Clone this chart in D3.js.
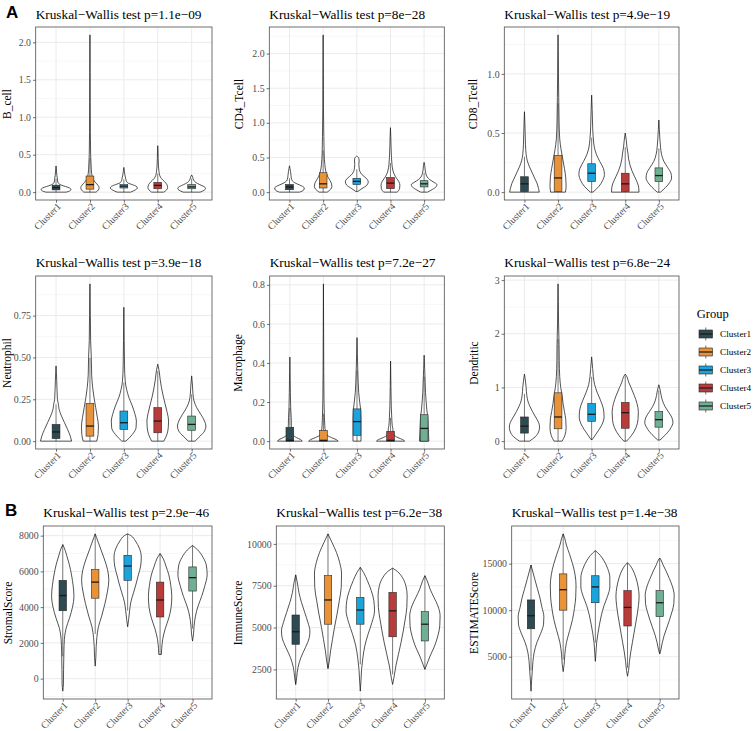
<!DOCTYPE html>
<html><head><meta charset="utf-8">
<script src="https://cdn.jsdelivr.net/npm/d3@7"></script>
<style>body{margin:0;background:#fff}svg{display:block}</style>
</head><body><svg id="chart" width="753" height="731"></svg>
<script>
// ---------------- data ----------------
const categories = ["Cluster1","Cluster2","Cluster3","Cluster4","Cluster5"];
const clusterColors = ["#2E4A52","#E8923A","#1BA3DC","#B83C3A","#6FAF93"];
const variables = ["B_cell","CD4_Tcell","CD8_Tcell","Neutrophil","Macrophage","Dendritic","StromalScore","ImmuneScore","ESTIMATEScore"];
const pValues = ["1.1e\u221209","8e\u221228","4.9e\u221219","3.9e\u221218","7.2e\u221227","6.8e\u221224","2.9e\u221246","6.2e\u221238","1.4e\u221238"];
const yTicks = [
  [0,0.5,1,1.5,2],[0,0.5,1,1.5,2],[0,0.5,1],
  [0,0.25,0.5,0.75],[0,0.2,0.4,0.6,0.8],[0,1,2,3],
  [0,2000,4000,6000,8000],[2500,5000,7500,10000],[5000,10000,15000]
];
const yTickFormats = [".1f",".1f",".1f",".2f",".1f","d","d","d","d"];

// violin profiles: [value, density (half-width, category units)] per cluster
const bcellViolins = [
  [[0,0.30],[0.015,0.40],[0.035,0.44],[0.055,0.40],[0.075,0.28],[0.095,0.15],[0.12,0.07],[0.15,0.045],[0.18,0.04],[0.22,0.025],[0.27,0.015],[0.31,0.01],[0.35,0]],
  [[0,0.18],[0.03,0.25],[0.06,0.27],[0.09,0.24],[0.13,0.16],[0.18,0.09],[0.25,0.05],[0.35,0.035],[0.5,0.02],[0.8,0.012],[1.2,0.008],[1.6,0.005],[2.1,0]],
  [[0,0.2],[0.03,0.34],[0.055,0.40],[0.08,0.36],[0.1,0.25],[0.12,0.13],[0.15,0.07],[0.19,0.05],[0.23,0.03],[0.28,0.015],[0.33,0]],
  [[0,0.18],[0.03,0.26],[0.06,0.29],[0.1,0.27],[0.14,0.2],[0.18,0.11],[0.22,0.06],[0.28,0.035],[0.35,0.02],[0.45,0.012],[0.55,0.008],[0.62,0]],
  [[0,0.25],[0.025,0.37],[0.05,0.41],[0.075,0.36],[0.1,0.24],[0.13,0.12],[0.16,0.06],[0.2,0.03],[0.23,0]]
];
const bcellBoxes = [[0,0.03,0.06,0.093,0.18],[0,0.04,0.1,0.215,0.45],[0,0.055,0.08,0.1,0.17],[0,0.045,0.09,0.13,0.25],[0,0.045,0.07,0.1,0.18]];

const cd4Violins = [
  [[0,0.3],[0.03,0.42],[0.06,0.44],[0.09,0.36],[0.12,0.22],[0.15,0.11],[0.19,0.06],[0.24,0.045],[0.3,0.03],[0.34,0.015],[0.38,0]],
  [[0,0.12],[0.04,0.22],[0.08,0.26],[0.12,0.25],[0.17,0.2],[0.23,0.13],[0.3,0.08],[0.4,0.05],[0.55,0.03],[0.8,0.02],[1.2,0.01],[1.7,0.006],[2.27,0]],
  [[0.01,0.03],[0.05,0.15],[0.1,0.3],[0.15,0.34],[0.2,0.28],[0.25,0.16],[0.3,0.09],[0.35,0.07],[0.4,0.06],[0.45,0.07],[0.49,0.06],[0.52,0]],
  [[0,0.2],[0.05,0.27],[0.1,0.28],[0.15,0.25],[0.2,0.18],[0.26,0.11],[0.32,0.07],[0.4,0.045],[0.5,0.03],[0.65,0.018],[0.8,0.01],[0.93,0]],
  [[0,0.1],[0.04,0.25],[0.08,0.36],[0.11,0.38],[0.14,0.3],[0.18,0.17],[0.22,0.09],[0.27,0.05],[0.32,0.03],[0.38,0.02],[0.43,0]]
];
const cd4Boxes = [[0,0.035,0.075,0.11,0.2],[0,0.06,0.12,0.28,0.6],[0.01,0.11,0.155,0.2,0.33],[0,0.05,0.13,0.21,0.42],[0,0.075,0.12,0.165,0.28]];

const cd8Violins = [
  [[0,0.44],[0.03,0.42],[0.07,0.38],[0.12,0.3],[0.17,0.22],[0.22,0.14],[0.27,0.08],[0.32,0.05],[0.4,0.03],[0.5,0.02],[0.6,0.01],[0.68,0]],
  [[0,0.22],[0.05,0.24],[0.12,0.23],[0.2,0.19],[0.28,0.14],[0.36,0.09],[0.45,0.05],[0.6,0.03],[0.8,0.02],[1.0,0.012],[1.2,0.006],[1.33,0]],
  [[0,0.04],[0.05,0.22],[0.1,0.33],[0.15,0.38],[0.2,0.35],[0.26,0.24],[0.32,0.14],[0.38,0.08],[0.45,0.05],[0.55,0.03],[0.7,0.015],[0.82,0]],
  [[0,0.41],[0.04,0.4],[0.08,0.36],[0.13,0.28],[0.18,0.2],[0.23,0.14],[0.28,0.1],[0.33,0.08],[0.38,0.05],[0.44,0.03],[0.5,0]],
  [[0,0.05],[0.04,0.2],[0.08,0.32],[0.12,0.38],[0.16,0.36],[0.21,0.26],[0.26,0.15],[0.32,0.08],[0.38,0.05],[0.45,0.03],[0.53,0.015],[0.61,0]]
];
const cd8Boxes = [[0,0.005,0.07,0.13,0.3],[0,0.005,0.12,0.31,0.75],[0,0.09,0.16,0.24,0.46],[0,0.005,0.07,0.16,0.38],[0,0.09,0.14,0.205,0.37]];

const neutrophilViolins = [
  [[0,0.46],[0.03,0.42],[0.07,0.34],[0.11,0.25],[0.15,0.16],[0.19,0.09],[0.22,0.07],[0.25,0.04],[0.3,0.03],[0.36,0.02],[0.41,0.01],[0.45,0]],
  [[0,0.2],[0.04,0.24],[0.09,0.25],[0.14,0.22],[0.2,0.17],[0.26,0.12],[0.32,0.08],[0.4,0.05],[0.5,0.04],[0.6,0.02],[0.75,0.012],[0.94,0]],
  [[0,0.06],[0.04,0.25],[0.08,0.36],[0.12,0.37],[0.16,0.33],[0.21,0.25],[0.26,0.15],[0.31,0.08],[0.36,0.04],[0.45,0.02],[0.6,0.01],[0.8,0]],
  [[0,0.18],[0.04,0.27],[0.08,0.31],[0.12,0.32],[0.17,0.28],[0.22,0.22],[0.27,0.16],[0.32,0.11],[0.37,0.07],[0.42,0.04],[0.46,0]],
  [[0,0.1],[0.03,0.25],[0.06,0.38],[0.09,0.42],[0.12,0.38],[0.16,0.27],[0.2,0.15],[0.24,0.07],[0.28,0.04],[0.33,0.025],[0.39,0]]
];
const neutrophilBoxes = [[0,0.015,0.055,0.1,0.22],[0,0.03,0.09,0.225,0.5],[0,0.07,0.11,0.18,0.35],[0,0.05,0.12,0.2,0.42],[0,0.065,0.1,0.15,0.28]];

const macrophageViolins = [
  [[0,0.37],[0.008,0.32],[0.018,0.2],[0.03,0.1],[0.05,0.06],[0.08,0.045],[0.12,0.04],[0.17,0.025],[0.25,0.015],[0.35,0.008],[0.43,0]],
  [[0,0.44],[0.008,0.38],[0.018,0.24],[0.03,0.11],[0.05,0.06],[0.08,0.04],[0.12,0.03],[0.2,0.018],[0.35,0.01],[0.55,0.006],[0.805,0]],
  [[0,0.12],[0.04,0.12],[0.08,0.12],[0.12,0.12],[0.16,0.11],[0.2,0.08],[0.25,0.05],[0.3,0.035],[0.38,0.02],[0.45,0.01],[0.53,0]],
  [[0,0.42],[0.008,0.36],[0.018,0.22],[0.03,0.11],[0.045,0.07],[0.06,0.07],[0.08,0.05],[0.12,0.035],[0.18,0.02],[0.28,0.01],[0.41,0]],
  [[0,0.14],[0.04,0.13],[0.08,0.12],[0.12,0.11],[0.16,0.08],[0.2,0.06],[0.25,0.04],[0.3,0.03],[0.37,0.015],[0.44,0]]
];
const macrophageBoxes = [[0,0,0.004,0.07,0.17],[0,0,0.004,0.055,0.14],[0,0.03,0.1,0.165,0.36],[0,0,0.004,0.05,0.12],[0,0,0.065,0.135,0.33]];

const dendriticViolins = [
  [[0,0.15],[0.08,0.32],[0.17,0.42],[0.26,0.45],[0.35,0.42],[0.45,0.33],[0.55,0.24],[0.65,0.16],[0.75,0.1],[0.85,0.07],[1.0,0.05],[1.12,0.03],[1.25,0]],
  [[0,0.12],[0.1,0.2],[0.25,0.24],[0.4,0.23],[0.55,0.19],[0.7,0.15],[0.85,0.12],[1.0,0.08],[1.2,0.05],[1.5,0.035],[1.8,0.03],[2.2,0.015],[2.6,0.008],[2.93,0]],
  [[0.03,0.02],[0.15,0.15],[0.3,0.3],[0.45,0.37],[0.6,0.35],[0.75,0.27],[0.9,0.17],[1.05,0.09],[1.2,0.05],[1.35,0.03],[1.57,0]],
  [[0,0.04],[0.1,0.18],[0.25,0.32],[0.4,0.38],[0.55,0.39],[0.7,0.35],[0.85,0.27],[1.0,0.17],[1.1,0.1],[1.2,0.05],[1.25,0]],
  [[0.02,0.03],[0.12,0.2],[0.25,0.36],[0.35,0.42],[0.45,0.38],[0.55,0.28],[0.65,0.18],[0.75,0.11],[0.85,0.07],[0.95,0.04],[1.05,0]]
];
const dendriticBoxes = [[0,0.15,0.28,0.45,0.88],[0,0.23,0.45,0.9,1.9],[0.03,0.37,0.5,0.7,1.2],[0,0.24,0.53,0.72,1.22],[0.02,0.26,0.4,0.55,0.95]];

const stromalViolins = [
  [[-700,0],[-300,0.02],[500,0.025],[1500,0.035],[2200,0.05],[2800,0.1],[3400,0.21],[4000,0.3],[4600,0.345],[5200,0.32],[5800,0.27],[6400,0.2],[6900,0.12],[7300,0.05],[7500,0]],
  [[700,0],[1200,0.02],[1800,0.03],[2300,0.05],[2900,0.1],[3500,0.2],[4200,0.3],[4900,0.38],[5500,0.42],[6100,0.38],[6700,0.28],[7200,0.18],[7600,0.1],[7900,0.04],[8100,0]],
  [[2900,0],[3300,0.03],[3800,0.06],[4300,0.1],[4800,0.18],[5300,0.26],[5800,0.33],[6300,0.4],[6800,0.42],[7300,0.36],[7700,0.24],[8000,0.1],[8100,0]],
  [[1350,0.04],[1700,0.05],[2200,0.08],[2800,0.16],[3400,0.27],[4000,0.34],[4600,0.36],[5200,0.33],[5800,0.27],[6300,0.18],[6700,0.1],[7000,0]],
  [[2100,0],[2500,0.03],[3000,0.05],[3500,0.09],[4000,0.16],[4600,0.28],[5200,0.38],[5800,0.45],[6300,0.43],[6800,0.32],[7200,0.16],[7450,0]]
];
const stromalBoxes = [[1250,3800,4650,5500,7500],[2500,4500,5400,6100,8100],[3800,5500,6300,6900,8100],[1350,3450,4400,5400,7000],[2800,4900,5650,6250,7450]];

const immuneViolins = [
  [[1600,0],[2000,0.03],[2600,0.07],[3200,0.16],[3800,0.3],[4400,0.42],[4800,0.44],[5300,0.38],[5900,0.28],[6500,0.18],[7100,0.1],[7700,0.05],[8150,0]],
  [[2550,0],[3000,0.04],[3600,0.08],[4300,0.14],[5000,0.2],[5800,0.28],[6600,0.35],[7400,0.41],[8200,0.42],[8900,0.36],[9500,0.26],[10100,0.12],[10600,0]],
  [[1200,0],[1800,0.02],[2500,0.04],[3200,0.08],[3900,0.14],[4600,0.24],[5300,0.36],[6000,0.44],[6600,0.42],[7200,0.34],[7800,0.22],[8300,0.1],[8600,0]],
  [[1600,0],[2000,0.04],[2700,0.1],[3400,0.18],[4100,0.26],[4800,0.33],[5500,0.39],[6200,0.44],[6900,0.45],[7500,0.41],[8000,0.3],[8350,0.15],[8550,0]],
  [[2500,0],[2800,0.06],[3300,0.16],[3900,0.3],[4500,0.4],[5100,0.46],[5700,0.47],[6300,0.4],[6800,0.28],[7300,0.16],[7800,0.07],[8100,0]]
];
const immuneBoxes = [[1600,4000,4750,5750,8150],[2550,5200,6650,8100,10600],[2800,5200,6050,6800,8600],[2200,4450,6000,7100,8550],[2500,4200,5200,5950,8100]];

const estimateViolins = [
  [[1300,0],[2500,0.02],[3500,0.04],[4500,0.06],[5500,0.1],[6500,0.18],[7500,0.3],[8500,0.39],[9300,0.4],[10300,0.34],[11300,0.28],[12300,0.2],[13300,0.12],[14200,0.05],[14850,0]],
  [[3400,0],[4200,0.03],[5200,0.05],[6500,0.1],[7800,0.2],[9000,0.29],[10200,0.35],[11400,0.39],[12600,0.4],[13800,0.37],[15000,0.29],[16000,0.2],[17000,0.1],[17700,0.05],[18200,0]],
  [[4500,0],[5500,0.02],[6500,0.04],[7500,0.08],[8500,0.13],[9500,0.19],[10500,0.27],[11500,0.38],[12500,0.45],[13500,0.45],[14500,0.38],[15300,0.27],[15900,0.15],[16400,0]],
  [[2900,0],[3500,0.03],[4500,0.06],[5500,0.1],[6500,0.15],[7500,0.2],[8500,0.25],[9500,0.3],[10500,0.34],[11500,0.36],[12500,0.33],[13500,0.26],[14300,0.17],[14800,0.08],[15100,0]],
  [[5300,0],[5800,0.04],[6500,0.08],[7300,0.14],[8100,0.22],[8900,0.3],[9800,0.38],[10700,0.44],[11600,0.45],[12500,0.4],[13400,0.3],[14200,0.2],[14900,0.1],[15400,0.04],[15600,0]]
];
const estimateBoxes = [[3500,8000,9400,11100,14850],[4700,10000,12200,13900,18200],[6500,10800,12500,13700,16400],[3800,8300,10300,12100,15100],[5300,9300,10800,12100,15600]];

const allViolins = [bcellViolins,cd4Violins,cd8Violins,neutrophilViolins,macrophageViolins,dendriticViolins,stromalViolins,immuneViolins,estimateViolins];
const allBoxes = [bcellBoxes,cd4Boxes,cd8Boxes,neutrophilBoxes,macrophageBoxes,dendriticBoxes,stromalBoxes,immuneBoxes,estimateBoxes];

// ---------------- layout ----------------
const rowTop = [27, 276, 526];
const rowBottom = [200, 449, 699];
const colRight = [212, 444.3, 679];
const plotLeft = [35.7, 269.3, 504.3, 35.7, 269.7, 504.3, 43.3, 276.3, 511.7];
const yTitleX = [10.5, 242.7, 476.5, 11, 241.5, 478, 11.5, 241.5, 478];
const yTitleY = [104, 363, 613];
const titleBaseline = [19, 266.7, 516.7];

const serif = "'Liberation Serif','Times New Roman',serif";
const svg = d3.select("#chart");

allViolins.forEach((violins, p) => {
  const row = Math.floor(p / 3), col = p % 3;
  const L = plotLeft[p], R = colRight[col], T = rowTop[row], B = rowBottom[row];
  const g = svg.append("g");

  const vals = violins.flat().map(d => d[0]);
  const [mn, mx] = d3.extent(vals);
  const pad = (mx - mn) * 0.05;
  const y = d3.scaleLinear().domain([mn - pad, mx + pad]).range([B, T]);
  const x = d3.scalePoint().domain(categories).range([L, R]).padding(0.6);
  const step = x.step();

  // background grid
  const ticks = yTicks[p];
  const tstep = ticks[1] - ticks[0];
  const minor = [];
  for (let v = ticks[0] - tstep / 2; v <= mx + pad; v += tstep) {
    if (v >= mn - pad) minor.push(v);
  }
  g.selectAll(".minor").data(minor).join("line")
    .attr("x1", L).attr("x2", R).attr("y1", d => y(d)).attr("y2", d => y(d))
    .attr("stroke", "#F2F2F2").attr("stroke-width", 0.6);
  g.selectAll(".majorY").data(ticks).join("line")
    .attr("x1", L).attr("x2", R).attr("y1", d => y(d)).attr("y2", d => y(d))
    .attr("stroke", "#EBEBEB").attr("stroke-width", 1);
  g.selectAll(".majorX").data(categories).join("line")
    .attr("y1", T).attr("y2", B).attr("x1", d => x(d)).attr("x2", d => x(d))
    .attr("stroke", "#EBEBEB").attr("stroke-width", 1);

  // violins
  violins.forEach((prof, i) => {
    const cx = x(categories[i]);
    const area = d3.area().curve(d3.curveMonotoneY)
      .y(d => y(d[0])).x0(d => cx - d[1] * step).x1(d => cx + d[1] * step);
    g.append("path").attr("d", area(prof))
      .attr("fill", "#fff").attr("stroke", "#1a1a1a").attr("stroke-width", 0.75);
  });

  // boxes
  allBoxes[p].forEach((b, i) => {
    const cx = x(categories[i]);
    const hw = step * 0.115;
    const [lo, q1, med, q3, hi] = b;
    g.append("line").attr("x1", cx).attr("x2", cx).attr("y1", y(lo)).attr("y2", y(q1))
      .attr("stroke", "#1a1a1a").attr("stroke-width", 0.6);
    g.append("line").attr("x1", cx).attr("x2", cx).attr("y1", y(q3)).attr("y2", y(hi))
      .attr("stroke", "#1a1a1a").attr("stroke-width", 0.6);
    g.append("rect").attr("x", cx - hw).attr("width", 2 * hw)
      .attr("y", y(q3)).attr("height", Math.max(0.5, y(q1) - y(q3)))
      .attr("fill", clusterColors[i]).attr("stroke", "#262626").attr("stroke-width", 0.6);
    g.append("line").attr("x1", cx - hw).attr("x2", cx + hw).attr("y1", y(med)).attr("y2", y(med))
      .attr("stroke", "#1a1a1a").attr("stroke-width", 1.3);
  });

  // border
  g.append("rect").attr("x", L).attr("y", T).attr("width", R - L).attr("height", B - T)
    .attr("fill", "none").attr("stroke", "#4d4d4d").attr("stroke-width", 0.8);

  // y axis
  const ya = g.append("g").attr("transform", `translate(${L},0)`)
    .call(d3.axisLeft(y).tickValues(ticks).tickFormat(d3.format(yTickFormats[p])).tickSize(2.7).tickPadding(2));
  ya.select(".domain").remove();
  ya.selectAll("line").attr("stroke", "#333").attr("stroke-width", 0.7);
  ya.selectAll("text").attr("font-family", serif).attr("font-size", 9.8).attr("fill", "#4D4D4D");

  // x axis
  const xa = g.append("g").attr("transform", `translate(0,${B})`)
    .call(d3.axisBottom(x).tickSize(2.7).tickPadding(2));
  xa.select(".domain").remove();
  xa.selectAll("line").attr("stroke", "#333").attr("stroke-width", 0.7);
  xa.selectAll("text").attr("font-family", serif).attr("font-size", 9.8).attr("fill", "#4D4D4D")
    .attr("text-anchor", "end").attr("dy", null).attr("y", 0).attr("x", 0)
    .attr("transform", "translate(5,7) rotate(-45)");

  // y title
  g.append("text").attr("transform", `translate(${yTitleX[p]},${yTitleY[row]}) rotate(-90)`)
    .attr("text-anchor", "middle").attr("font-family", serif).attr("font-size", 11.5)
    .attr("fill", "#000").text(variables[p]);

  // title
  g.append("text").attr("x", L).attr("y", titleBaseline[row])
    .attr("font-family", serif).attr("font-size", 13.3).attr("fill", "#000")
    .text("Kruskal\u2212Wallis test p=" + pValues[p]);
});

// panel tags
svg.append("text").attr("x", 6).attr("y", 17.5).attr("font-family", "'Liberation Sans',Arial,sans-serif")
  .attr("font-weight", "bold").attr("font-size", 17).text("A");
svg.append("text").attr("x", 5).attr("y", 515.5).attr("font-family", "'Liberation Sans',Arial,sans-serif")
  .attr("font-weight", "bold").attr("font-size", 17).text("B");

// legend
const lg = svg.append("g");
lg.append("text").attr("x", 696.7).attr("y", 318).attr("font-family", serif).attr("font-size", 12.5).text("Group");
const keyY = d3.scalePoint().domain(categories).range([334, 406]);
categories.forEach((c, i) => {
  const cy = keyY(c), kx = 699, kw = 13.5;
  lg.append("line").attr("x1", kx + kw / 2).attr("x2", kx + kw / 2).attr("y1", cy - 6.5).attr("y2", cy + 6.5)
    .attr("stroke", "#1a1a1a").attr("stroke-width", 0.6);
  lg.append("rect").attr("x", kx).attr("y", cy - 4).attr("width", kw).attr("height", 8)
    .attr("fill", clusterColors[i]).attr("stroke", "#262626").attr("stroke-width", 0.6);
  lg.append("line").attr("x1", kx).attr("x2", kx + kw).attr("y1", cy).attr("y2", cy)
    .attr("stroke", "#1a1a1a").attr("stroke-width", 1.2);
  lg.append("text").attr("x", 720).attr("y", cy + 3.3).attr("font-family", serif)
    .attr("font-size", 9.2).text(c);
});
</script></body></html>
